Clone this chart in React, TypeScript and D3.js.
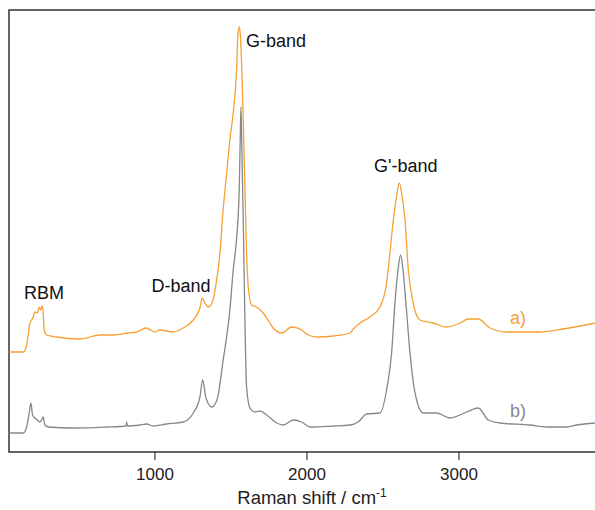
import React from "react";
import * as d3 from "d3";

// Raman shift (cm-1) and intensity (a.u.)
const shiftA = [40, 134, 156, 178, 189, 199, 211, 226, 239, 248, 261, 272, 288, 353, 507, 638, 726, 824, 880, 941, 1000, 1033, 1120, 1186, 1252, 1296, 1311, 1329, 1351, 1382, 1406, 1428, 1447, 1472, 1493, 1515, 1537, 1546, 1555, 1562, 1581, 1592, 1603, 1614, 1636, 1669, 1712, 1752, 1778, 1834, 1899, 1954, 2009, 2064, 2173, 2283, 2305, 2349, 2414, 2480, 2524, 2546, 2568, 2589, 2607, 2625, 2645, 2667, 2699, 2743, 2831, 2919, 3007, 3062, 3127, 3204, 3314, 3533, 3684, 3796, 3895];
const intensityA = [100, 100, 107, 129, 132, 135, 140, 139, 145, 142, 146, 122, 117, 115, 113, 117, 117, 119, 120, 124, 120, 122, 120, 124, 132, 144, 154, 149, 145, 152, 172, 199, 239, 279, 312, 339, 382, 417, 425, 417, 332, 265, 199, 165, 147, 145, 139, 130, 124, 119, 125, 123, 117, 115, 116, 119, 123, 129, 135, 145, 169, 199, 232, 255, 269, 257, 232, 182, 149, 132, 129, 125, 129, 133, 133, 124, 120, 120, 123, 126, 129];

const shiftB = [40, 134, 156, 173, 184, 195, 211, 226, 243, 255, 265, 276, 298, 463, 682, 809, 814, 819, 901, 945, 989, 1077, 1186, 1252, 1296, 1314, 1336, 1373, 1408, 1449, 1493, 1515, 1538, 1555, 1561, 1566, 1572, 1581, 1592, 1603, 1625, 1658, 1691, 1735, 1801, 1844, 1910, 1965, 2020, 2173, 2283, 2337, 2393, 2480, 2524, 2557, 2579, 2599, 2616, 2632, 2651, 2678, 2711, 2765, 2853, 2941, 3051, 3127, 3193, 3270, 3467, 3577, 3709, 3775, 3895];
const intensityB = [19, 19, 25, 39, 49, 37, 34, 32, 30, 32, 35, 27, 25, 24, 25, 26, 30, 26, 27, 28, 26, 28, 30, 39, 55, 72, 54, 45, 52, 92, 142, 182, 215, 265, 312, 345, 302, 232, 132, 65, 44, 40, 41, 37, 29, 27, 32, 30, 25, 26, 27, 30, 38, 39, 62, 99, 149, 182, 197, 182, 149, 99, 59, 39, 39, 34, 40, 44, 32, 29, 27, 25, 25, 27, 29];

const xTicks = [1000, 2000, 3000];

const peakLabels = [
  { text: "RBM", x: 270, y: 153, anchor: "middle" },
  { text: "D-band", x: 1171, y: 160, anchor: "middle" },
  { text: "G-band", x: 1599, y: 405, anchor: "start" },
  { text: "G'-band", x: 2650, y: 280, anchor: "middle" },
];

const W = 595;
const H = 510;
const left = 9;
const right = 595;
const top = 10;
const bottom = 452;
const orange = "#f7a035";
const gray = "#85888b";
const font = "'Liberation Sans', Arial, Helvetica, sans-serif";

export default function App() {
  const x = d3.scaleLinear().domain([40, 3895]).range([left, right]);
  const y = d3.scaleLinear().domain([0, 442]).range([bottom, top]);

  const line = d3
    .line<[number, number]>()
    .x((d) => x(d[0]))
    .y((d) => y(d[1]))
    .curve(d3.curveMonotoneX);

  const a = shiftA.map((s, i) => [s, intensityA[i]] as [number, number]);
  const b = shiftB.map((s, i) => [s, intensityB[i]] as [number, number]);

  return (
    <svg
      width={W}
      height={H}
      style={{ position: "absolute", left: 0, top: 0, background: "#fff" }}
      fontFamily={font}
    >
      {/* frame: top and left, bottom axis */}
      <path
        d={`M${right + 2},${top} H${left} V${bottom} H${right + 2}`}
        fill="none"
        stroke="#333"
        strokeWidth={1.5}
      />
      {xTicks.map((t) => (
        <g key={t}>
          <line x1={x(t)} x2={x(t)} y1={bottom} y2={bottom + 8} stroke="#333" strokeWidth={1.2} />
          <text x={x(t)} y={480} textAnchor="middle" fontSize={17} fill="#222">
            {t}
          </text>
        </g>
      ))}
      <text x={312} y={504} textAnchor="middle" fontSize={18.5} fill="#222">
        Raman shift / cm
        <tspan dy={-7} fontSize={12}>-1</tspan>
      </text>

      <path d={line(b) ?? ""} fill="none" stroke={gray} strokeWidth={1.3} strokeLinejoin="round" />
      <path d={line(a) ?? ""} fill="none" stroke={orange} strokeWidth={1.3} strokeLinejoin="round" />

      {peakLabels.map((l) => (
        <text
          key={l.text}
          x={x(l.x)}
          y={y(l.y)}
          textAnchor={l.anchor as any}
          fontSize={18}
          fill="#111"
        >
          {l.text}
        </text>
      ))}
      <text x={510} y={324} fontSize={18} fill={orange}>a)</text>
      <text x={510} y={417} fontSize={18} fill={gray}>b)</text>
    </svg>
  );
}
